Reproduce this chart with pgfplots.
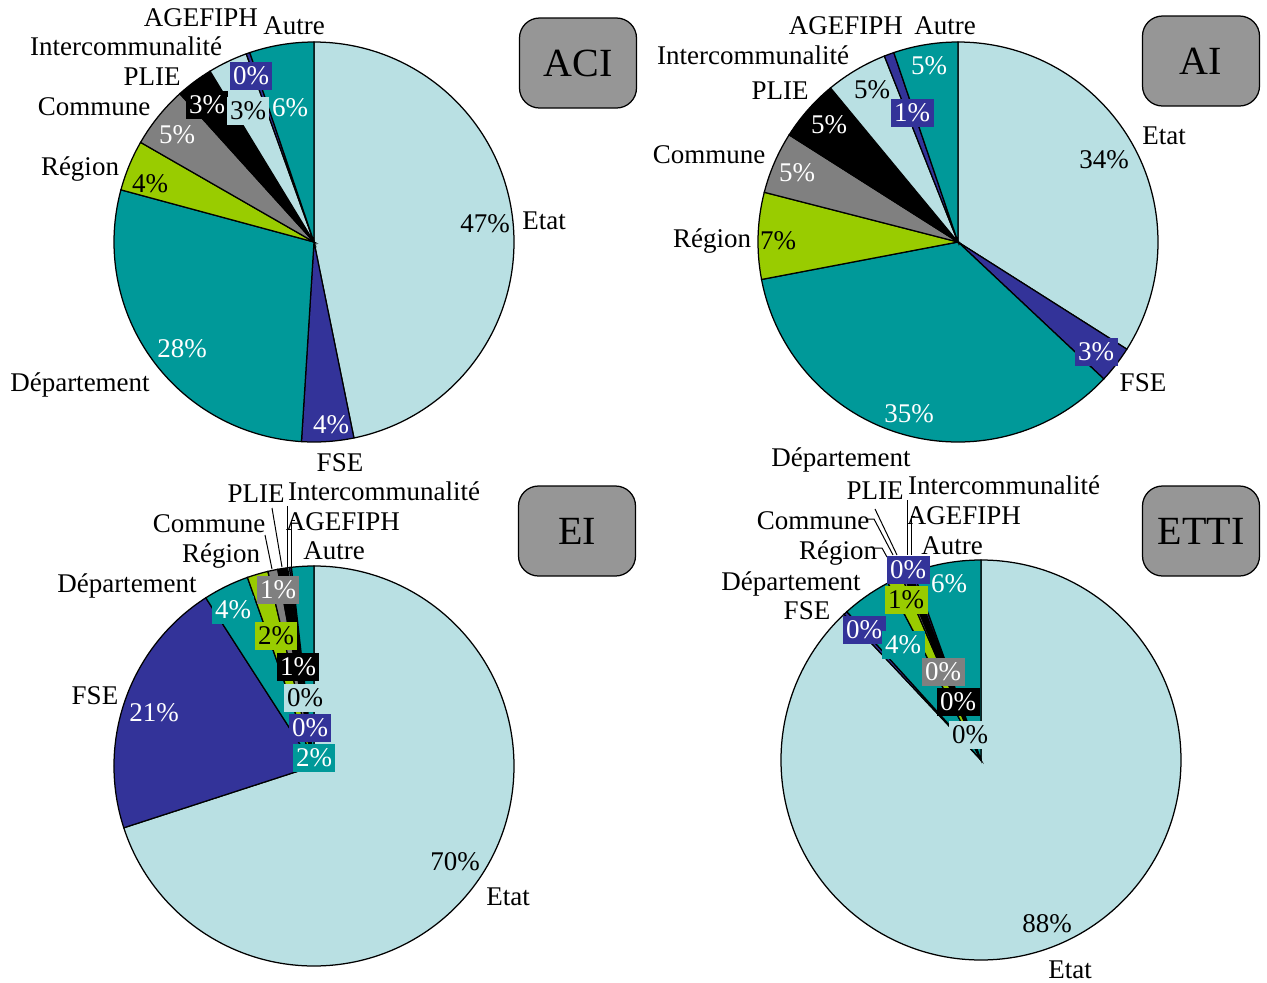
\documentclass[border=0pt]{standalone}
\usepackage{fontspec}
\setmainfont{Liberation Serif}
\usepackage{pgfplots}
\pgfplotsset{compat=1.18}

\definecolor{cLB}{RGB}{185,224,227}
\definecolor{cNavy}{RGB}{51,51,153}
\definecolor{cTeal}{RGB}{0,153,153}
\definecolor{cGreen}{RGB}{153,204,0}
\definecolor{cGray}{RGB}{128,128,128}
\definecolor{cBox}{RGB}{150,150,150}

% one pie: centre x, centre y (pixels), list of percent/colour, clockwise from top
\newcommand{\pie}[3]{\pgfplotsextra{%
  \foreach \v/\c [remember=\e as \a (initially 90), evaluate=\v as \e using \a-3.6*\v] in {#3}{
    \filldraw[fill=\c, draw=black, line width=0.5pt]
      (axis cs:#1,#2) -- ++(\a:80pt) arc[start angle=\a, end angle=\e, radius=80pt] -- cycle;
  }}}

\tikzset{
  t/.style={font=\fontsize{10.8}{13}\selectfont, inner sep=0pt, text height=0.75em, text depth=0.1em},
  w/.style={t, text=white},
  b/.style={t, fill=#1, inner xsep=1.4pt, inner ysep=1.5pt},
  bw/.style={b=#1, text=white},
  ld/.style={draw=black, line width=0.4pt},
  tag/.style={draw=black, line width=0.5pt, fill=cBox, rounded corners=8pt,
    minimum width=46.8pt, minimum height=36pt, font=\fontsize{16}{19}\selectfont},
}

\begin{document}
\begin{tikzpicture}
\begin{axis}[
  x=0.4pt, y=0.4pt,
  xmin=0, xmax=1267, ymin=0, ymax=983,
  y dir=reverse,
  hide axis, clip=false,
]
\path (axis cs:0,0) rectangle (axis cs:1267,983);

% ---------------- ACI ----------------
\pie{314}{242}{46.8/cLB, 4.2/cNavy, 28.2/cTeal, 4.1/cGreen, 5.0/cGray, 3.0/black, 3.2/cLB, 0.3/cNavy, 5.2/cTeal}
\node[t] at (axis cs:485,224) {47\%};
\node[t] at (axis cs:544,221) {Etat};
\node[w] at (axis cs:331,425) {4\%};
\node[t] at (axis cs:340,463) {FSE};
\node[w] at (axis cs:182,349) {28\%};
\node[t] at (axis cs:80,383) {Département};
\node[t] at (axis cs:150,184) {4\%};
\node[t] at (axis cs:80,167) {Région};
\node[w] at (axis cs:177,135) {5\%};
\node[t] at (axis cs:94,107) {Commune};
\node[bw=black] at (axis cs:207,105) {3\%};
\node[t] at (axis cs:152,77) {PLIE};
\node[b=cLB] at (axis cs:248,111) {3\%};
\node[t] at (axis cs:126,47) {Intercommunalité};
\node[bw=cNavy] at (axis cs:251,76) {0\%};
\node[t] at (axis cs:201,18) {AGEFIPH};
\node[w] at (axis cs:290,108) {6\%};
\node[t] at (axis cs:294,26) {Autre};
\node[tag] at (axis cs:578,63) {ACI};

% ---------------- AI ----------------
\pie{958}{242}{34/cLB, 3/cNavy, 35/cTeal, 7/cGreen, 5/cGray, 5/black, 5/cLB, 0.8/cNavy, 5.2/cTeal}
\node[t] at (axis cs:1104,160) {34\%};
\node[t] at (axis cs:1164,136) {Etat};
\node[bw=cNavy] at (axis cs:1096,352) {3\%};
\node[t] at (axis cs:1143,383) {FSE};
\node[w] at (axis cs:909,414) {35\%};
\node[t] at (axis cs:712,239) {Région};
\node[t] at (axis cs:778,241) {7\%};
\node[t] at (axis cs:709,155) {Commune};
\node[w] at (axis cs:797,173) {5\%};
\node[t] at (axis cs:780,91) {PLIE};
\node[w] at (axis cs:829,125) {5\%};
\node[t] at (axis cs:872,90) {5\%};
\node[t] at (axis cs:753,56) {Intercommunalité};
\node[bw=cNavy] at (axis cs:912,113) {1\%};
\node[t] at (axis cs:846,26) {AGEFIPH};
\node[t] at (axis cs:945,26) {Autre};
\node[w] at (axis cs:929,66) {5\%};
\node[tag] at (axis cs:1201,61) {AI};

% ---------------- EI ----------------
\pie{314}{766}{70/cLB, 20.9/cNavy, 3.7/cTeal, 1.7/cGreen, 0.8/cGray, 0.8/black, 0.15/cLB, 0.15/cNavy, 1.8/cTeal}
\draw[ld] (axis cs:265,535) -- (axis cs:272,569);
\draw[ld] (axis cs:272,508) -- (axis cs:282,567);
\draw[ld] (axis cs:287,506) -- (axis cs:287,568);
\draw[ld] (axis cs:295,520) -- (axis cs:291,520) -- (axis cs:291,567);
\node[t] at (axis cs:455,862) {70\%};
\node[t] at (axis cs:508,897) {Etat};
\node[w] at (axis cs:154,713) {21\%};
\node[t] at (axis cs:95,696) {FSE};
\node[bw=cTeal] at (axis cs:233,610) {4\%};
\node[t] at (axis cs:127,584) {Département};
\node[bw=cGray] at (axis cs:278,590) {1\%};
\node[t] at (axis cs:209,524) {Commune};
\node[b=cGreen] at (axis cs:276,636) {2\%};
\node[t] at (axis cs:221,554) {Région};
\node[bw=black] at (axis cs:298,667) {1\%};
\node[t] at (axis cs:256,494) {PLIE};
\node[b=cLB] at (axis cs:305,698) {0\%};
\node[t] at (axis cs:384,492) {Intercommunalité};
\node[bw=cNavy] at (axis cs:310,728) {0\%};
\node[t] at (axis cs:343,522) {AGEFIPH};
\node[bw=cTeal] at (axis cs:314,758) {2\%};
\node[t] at (axis cs:334,551) {Autre};
\node[tag] at (axis cs:577,531) {EI};

% ---------------- ETTI ----------------
\pie{981}{760}{88/cLB, 0.3/cNavy, 4/cTeal, 1.2/cGreen, 0.2/cGray, 0.5/black, 0.1/cLB, 0.2/cNavy, 5.5/cTeal}
\draw[ld] (axis cs:867,519) -- (axis cs:874,519) -- (axis cs:893,555);
\draw[ld] (axis cs:875,548) -- (axis cs:882,548) -- (axis cs:887,557);
\draw[ld] (axis cs:875,509) -- (axis cs:897,555);
\draw[ld] (axis cs:907,500) -- (axis cs:907,555);
\draw[ld] (axis cs:915,516) -- (axis cs:911,516) -- (axis cs:911,555);
\node[t] at (axis cs:1047,924) {88\%};
\node[t] at (axis cs:1070,970) {Etat};
\node[bw=cNavy] at (axis cs:864,630) {0\%};
\node[t] at (axis cs:807,611) {FSE};
\node[bw=cTeal] at (axis cs:903,645) {4\%};
\node[t] at (axis cs:791,582) {Département};
\node[t] at (axis cs:841,458) {Département};
\node[b=cGreen] at (axis cs:906,600) {1\%};
\node[t] at (axis cs:838,551) {Région};
\node[bw=cGray] at (axis cs:943,672) {0\%};
\node[t] at (axis cs:813,521) {Commune};
\node[bw=black] at (axis cs:958,702) {0\%};
\node[t] at (axis cs:875,491) {PLIE};
\node[b=cLB] at (axis cs:970,735) {0\%};
\node[t] at (axis cs:1004,486) {Intercommunalité};
\node[bw=cNavy] at (axis cs:908,570) {0\%};
\node[t] at (axis cs:964,516) {AGEFIPH};
\node[w] at (axis cs:949,584) {6\%};
\node[t] at (axis cs:952,546) {Autre};
\node[tag] at (axis cs:1201,531) {ETTI};

\end{axis}
\end{tikzpicture}
\end{document}
